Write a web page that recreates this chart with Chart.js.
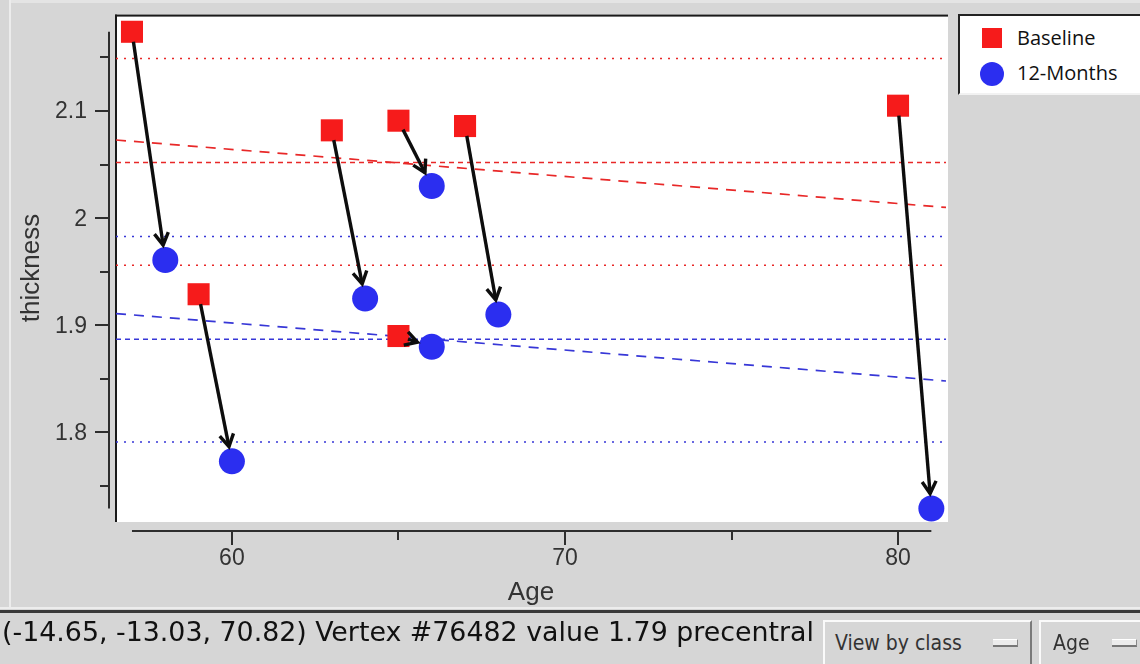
<!DOCTYPE html>
<html><head><meta charset="utf-8">
<script src="https://cdn.jsdelivr.net/npm/chart.js@4.4.1/dist/chart.umd.min.js"></script>
<style>
html,body{margin:0;padding:0;background:#d6d6d6;width:1140px;height:664px;overflow:hidden;position:relative}
#c{position:absolute;left:0;top:0}
#edge{position:absolute;left:9px;top:0;width:2px;height:609px;background:#ececec}
#topedge{position:absolute;left:9px;top:0;width:1131px;height:3px;background:#e4e4e4}
#sepL{position:absolute;left:0;top:607px;width:1140px;height:2px;background:#ededed}
#sep{position:absolute;left:0;top:610px;width:1140px;height:3px;background:#3a3a3a}
#legend{position:absolute;left:958px;top:14px;width:182px;height:77px;background:#fff;border-left:2px solid #222;border-top:2px solid #222;border-bottom:2px solid #f2f2f2;box-sizing:content-box}
.lg{position:absolute;font-family:"Open Sans",sans-serif;font-size:20px;color:#111;line-height:24px;white-space:nowrap}
.sw{position:absolute}
#status{position:absolute;left:2px;top:616px;font-family:"DejaVu Sans Condensed","DejaVu Sans",sans-serif;font-stretch:condensed;font-size:27px;line-height:32px;color:#111;white-space:nowrap;transform-origin:0 0}
.btn{position:absolute;top:620px;height:50px;background:#d6d6d6;border-top:2px solid #fafafa;border-left:2px solid #fafafa;border-right:2px solid #7a7a7a;box-sizing:border-box}
.btxt{position:absolute;top:8px;font-family:"DejaVu Sans Condensed","DejaVu Sans",sans-serif;font-stretch:condensed;font-size:21px;line-height:26px;color:#333;white-space:nowrap}
.dash{position:absolute;top:17px;width:25px;height:8px;background:#ececec;border-top:1px solid #fff;border-bottom:2px solid #777;border-right:1px solid #888;box-sizing:border-box}
</style></head><body>
<canvas id="c" width="1140" height="664"></canvas>
<div id="topedge"></div><div id="edge"></div>
<div id="legend"></div>
<div id="sepL"></div><div id="sep"></div>
<div id="status"></div>
<div class="btn" style="left:823px;width:209px"><div class="btxt" style="left:10px">View by class</div><div class="dash" style="left:168px"></div></div>
<div class="btn" style="left:1039px;width:120px"><div class="btxt" style="left:12px">Age</div><div class="dash" style="left:71px"></div></div>
<script>
// ---- data ----
const seriesNames = ['Baseline', '12-Months'];
const baselineAge = [57, 59, 63, 65, 67, 65, 80];
const baselineThickness = [2.174, 1.929, 2.082, 2.091, 2.086, 1.890, 2.105];
const monthsAge = [58, 60, 64, 66, 68, 66, 81];
const monthsThickness = [1.961, 1.773, 1.925, 2.030, 1.910, 1.880, 1.729];
const baselineBands = [2.149, 2.052, 1.956];   // mean + sd, mean, mean - sd
const monthsBands = [1.983, 1.887, 1.791];
const fitAges = [56.52, 81.44];
const baselineFit = [2.073, 2.010];
const monthsFit = [1.911, 1.848];
const xTicksMajor = [60, 70, 80];
const xTickLabels = ['60', '70', '80'];
const xTicksMinor = [65, 75];
const yTicksMajor = [1.8, 1.9, 2.0, 2.1];
const yTickLabels = ['1.8', '1.9', '2', '2.1'];
const yTicksMinor = [1.75, 1.85, 1.95, 2.05, 2.15];
const xTitle = 'Age';
const yTitle = 'thickness';
const statusText = '(-14.65, -13.03, 70.82) Vertex #76482 value 1.79 precentral';

const RED = '#f61b1b', BLUE = '#2b2ef0';
const RED_L = 'rgb(232,40,40)', BLUE_L = 'rgb(55,55,215)';

// legend
const lg = document.getElementById('legend');
lg.innerHTML =
 '<div class="sw" style="left:22px;top:12px;width:20px;height:20px;background:'+RED+'"></div>' +
 '<div class="lg" style="left:57px;top:10px">'+seriesNames[0]+'</div>' +
 '<div class="sw" style="left:20px;top:46px;width:24px;height:24px;border-radius:50%;background:'+BLUE+'"></div>' +
 '<div class="lg" style="left:57px;top:45px">'+seriesNames[1]+'</div>';
const st = document.getElementById('status');
st.textContent = statusText;
const w = st.scrollWidth; st.style.transform = 'scaleX(' + (812 / w) + ')';

function pts(xs, ys) { return xs.map((x, i) => ({x: x, y: ys[i]})); }
function hline(v, color, dash, w) {
  return {type: 'line', showLine: true, data: pts(fitAges, [v, v]), borderColor: color, borderWidth: w,
    borderDash: dash, pointRadius: 0, fill: false};
}

const arrowPlugin = {
  id: 'deco',
  beforeDatasetsDraw(chart) {
    const {ctx, chartArea: a} = chart;
    ctx.save();
    ctx.fillStyle = '#fff';
    ctx.fillRect(a.left, a.top, a.right - a.left + 2, a.bottom - a.top);
    ctx.fillStyle = '#1a1a1a';
    ctx.fillRect(a.left - 1, a.top - 1, a.right - a.left + 3, 2);
    ctx.fillRect(a.left - 1, a.top - 1, 2, a.bottom - a.top + 1);
    ctx.restore();
  },
  afterDatasetsDraw(chart) {
    const {ctx} = chart;
    const xs = chart.scales.x, ys = chart.scales.y;
    ctx.save();
    ctx.strokeStyle = '#0d0d0d'; ctx.lineWidth = 3.4; ctx.lineCap = 'butt'; ctx.lineJoin = 'miter';
    for (let i = 0; i < baselineAge.length; i++) {
      const x1 = xs.getPixelForValue(baselineAge[i]), y1 = ys.getPixelForValue(baselineThickness[i]);
      const x2 = xs.getPixelForValue(monthsAge[i]), y2 = ys.getPixelForValue(monthsThickness[i]);
      const dx = x2 - x1, dy = y2 - y1, L = Math.hypot(dx, dy), ux = dx / L, uy = dy / L;
      const sx = x1 + ux * 10, sy = y1 + uy * 10, ex = x2 - ux * 15, ey = y2 - uy * 15;
      ctx.beginPath(); ctx.moveTo(sx, sy); ctx.lineTo(ex, ey); ctx.stroke();
      const ang = Math.atan2(uy, ux), h = 14, al = Math.PI / 6;
      ctx.beginPath();
      ctx.moveTo(ex - h * Math.cos(ang - al), ey - h * Math.sin(ang - al));
      ctx.lineTo(ex, ey);
      ctx.lineTo(ex - h * Math.cos(ang + al), ey - h * Math.sin(ang + al));
      ctx.stroke();
    }
    // axes
    const allX = baselineAge.concat(monthsAge), allY = baselineThickness.concat(monthsThickness);
    const xMin = Math.min(...allX), xMax = Math.max(...allX), yMin = Math.min(...allY), yMax = Math.max(...allY);
    ctx.strokeStyle = '#2e2e2e'; ctx.lineWidth = 2;
    const axY = 531, axX = 109;
    ctx.beginPath();
    ctx.moveTo(xs.getPixelForValue(xMin), axY); ctx.lineTo(xs.getPixelForValue(xMax), axY);
    ctx.moveTo(axX, ys.getPixelForValue(yMin)); ctx.lineTo(axX, ys.getPixelForValue(yMax));
    ctx.stroke();
    ctx.beginPath();
    xTicksMajor.forEach(v => { const p = Math.round(xs.getPixelForValue(v)); ctx.moveTo(p, axY); ctx.lineTo(p, axY + 14); });
    xTicksMinor.forEach(v => { const p = Math.round(xs.getPixelForValue(v)); ctx.moveTo(p, axY); ctx.lineTo(p, axY + 9); });
    yTicksMajor.forEach(v => { const p = Math.round(ys.getPixelForValue(v)); ctx.moveTo(axX, p); ctx.lineTo(axX - 14, p); });
    yTicksMinor.forEach(v => { const p = Math.round(ys.getPixelForValue(v)); ctx.moveTo(axX, p); ctx.lineTo(axX - 9, p); });
    ctx.stroke();
    ctx.fillStyle = '#333';
    ctx.font = '23px "Liberation Sans", Arial, sans-serif';
    ctx.textAlign = 'center'; ctx.textBaseline = 'middle';
    xTicksMajor.forEach((v, i) => ctx.fillText(xTickLabels[i], xs.getPixelForValue(v), 559));
    ctx.textAlign = 'right';
    yTicksMajor.forEach((v, i) => ctx.fillText(yTickLabels[i], 87, ys.getPixelForValue(v) + 1));
    ctx.font = '26px "Liberation Sans", Arial, sans-serif';
    ctx.textAlign = 'center';
    ctx.fillText(xTitle, 531, 593);
    ctx.translate(32, 268); ctx.rotate(-Math.PI / 2);
    ctx.fillText(yTitle, 0, 0);
    ctx.restore();
  }
};

new Chart(document.getElementById('c'), {
  type: 'scatter',
  data: {
    datasets: [
      {label: seriesNames[0], data: pts(baselineAge, baselineThickness), pointStyle: 'rect', pointRadius: 15.6,
        backgroundColor: RED, borderWidth: 0, clip: false},
      {label: seriesNames[1], data: pts(monthsAge, monthsThickness), pointStyle: 'circle', pointRadius: 13,
        backgroundColor: BLUE, borderWidth: 0, clip: false},
      hline(baselineBands[0], RED_L, [2, 6], 1.5),
      hline(baselineBands[1], RED_L, [5, 4], 1.5),
      hline(baselineBands[2], RED_L, [2, 6], 1.5),
      hline(monthsBands[0], BLUE_L, [2, 6], 1.5),
      hline(monthsBands[1], BLUE_L, [5, 4], 1.5),
      hline(monthsBands[2], BLUE_L, [2, 6], 1.5),
      {type: 'line', showLine: true, data: pts(fitAges, baselineFit), borderColor: RED_L, borderWidth: 1.7,
        borderDash: [10, 8], pointRadius: 0, fill: false},
      {type: 'line', showLine: true, data: pts(fitAges, monthsFit), borderColor: BLUE_L, borderWidth: 1.7,
        borderDash: [10, 8], pointRadius: 0, fill: false}
    ]
  },
  options: {
    responsive: false, animation: false, events: [],
    layout: {padding: {left: 116, top: 12, right: 194, bottom: 142}},
    scales: {
      x: {type: 'linear', min: 56.52, max: 81.44, display: false},
      y: {type: 'linear', min: 1.7164, max: 2.1891, display: false}
    },
    plugins: {legend: {display: false}, tooltip: {enabled: false}}
  },
  plugins: [arrowPlugin]
});
</script>
</body></html>
